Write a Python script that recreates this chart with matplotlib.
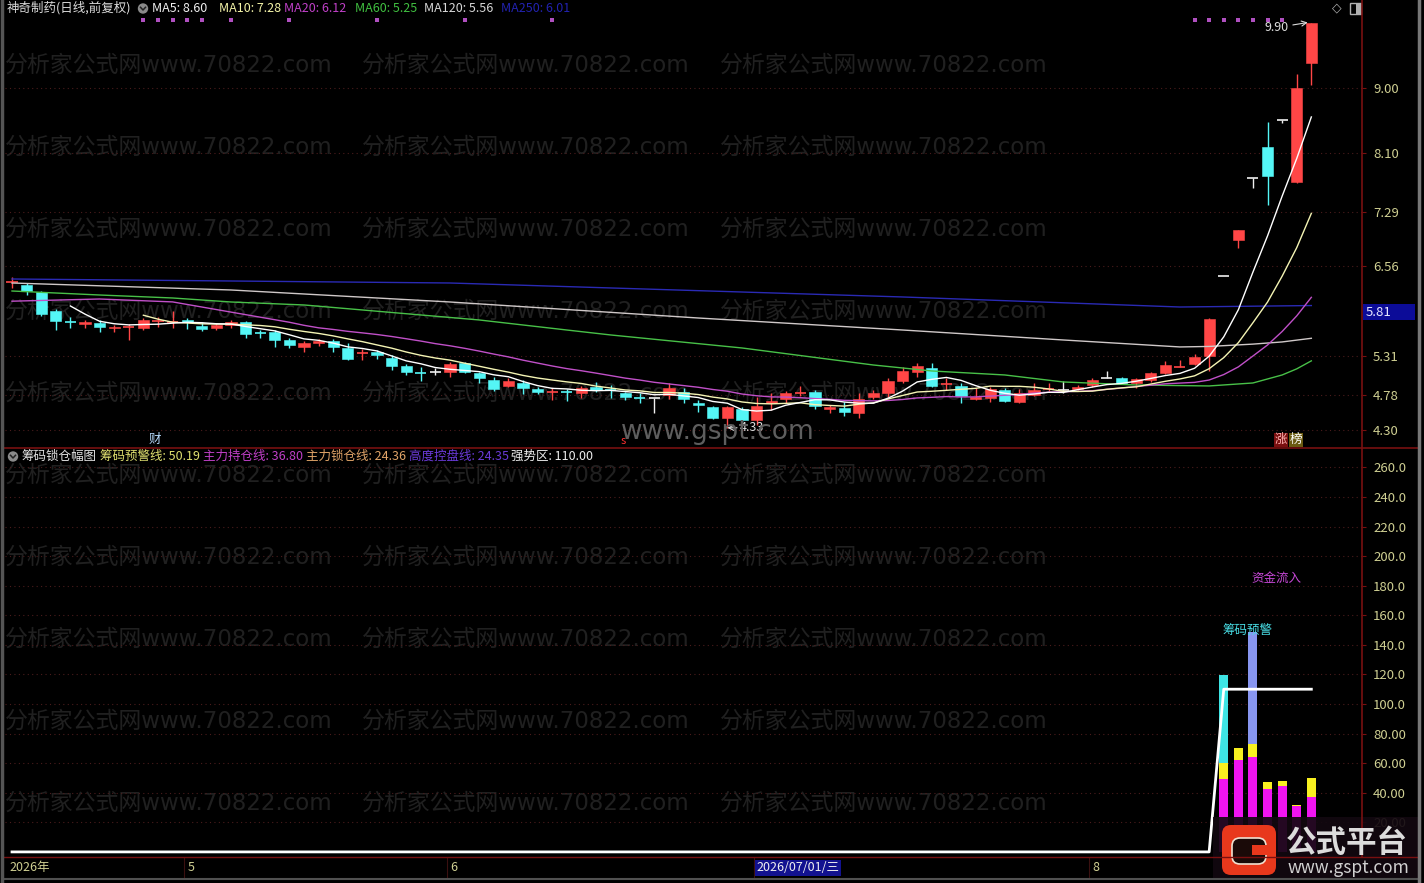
import numpy as np
import matplotlib
matplotlib.use('Agg')
import matplotlib.pyplot as plt
from matplotlib.patches import Rectangle, FancyBboxPatch, Circle
import matplotlib.transforms as mtransforms

plt.rcParams['font.family'] = ['Noto Sans CJK SC', 'DejaVu Sans']

# ---------------- data ----------------
opens = [6.33, 6.29, 6.20, 5.94, 5.79, 5.76, 5.77, 5.70, 5.71, 5.70,
         5.79, 5.78, 5.81, 5.73, 5.70, 5.74, 5.78, 5.64, 5.65, 5.54,
         5.44, 5.50, 5.52, 5.43, 5.35, 5.37, 5.29, 5.18, 5.09, 5.10,
         5.10, 5.22, 5.08, 4.99, 4.91, 4.95, 4.86, 4.82, 4.83, 4.81,
         4.89, 4.85, 4.81, 4.75, 4.74, 4.78, 4.82, 4.67, 4.62, 4.47,
         4.59, 4.44, 4.67, 4.73, 4.80, 4.82, 4.59, 4.60, 4.53, 4.75,
         4.81, 4.97, 5.10, 5.15, 4.93, 4.91, 4.73, 4.74, 4.85, 4.69,
         4.78, 4.86, 4.85, 4.86, 4.92, 5.02, 5.02, 4.95, 4.99, 5.08,
         5.16, 5.21, 5.32, 6.41, 6.91, 7.76, 8.19, 8.56, 7.71, 9.34]
highs = [6.40, 6.32, 6.21, 5.96, 5.85, 5.81, 5.81, 5.74, 5.76, 5.84,
         5.85, 5.94, 5.84, 5.78, 5.77, 5.81, 5.80, 5.67, 5.67, 5.56,
         5.52, 5.55, 5.55, 5.50, 5.41, 5.40, 5.33, 5.21, 5.17, 5.15,
         5.23, 5.23, 5.10, 5.03, 5.02, 4.99, 4.89, 4.88, 4.86, 4.91,
         4.96, 4.92, 4.82, 4.81, 4.74, 4.95, 4.88, 4.71, 4.63, 4.63,
         4.62, 4.75, 4.81, 4.84, 4.91, 4.85, 4.64, 4.69, 4.81, 4.85,
         5.02, 5.17, 5.22, 5.22, 5.02, 4.95, 4.88, 4.89, 4.88, 4.86,
         4.95, 4.95, 4.97, 4.92, 5.02, 5.11, 5.03, 5.02, 5.10, 5.25,
         5.26, 5.34, 5.84, 6.41, 7.05, 7.76, 8.53, 8.56, 9.19, 9.90]
lows = [6.25, 6.16, 5.87, 5.67, 5.70, 5.70, 5.65, 5.65, 5.54, 5.67,
        5.72, 5.70, 5.69, 5.66, 5.67, 5.70, 5.56, 5.56, 5.44, 5.43,
        5.37, 5.45, 5.37, 5.26, 5.26, 5.28, 5.12, 5.06, 4.97, 5.06,
        5.03, 5.08, 4.95, 4.84, 4.89, 4.80, 4.80, 4.71, 4.70, 4.74,
        4.82, 4.74, 4.71, 4.67, 4.53, 4.73, 4.67, 4.55, 4.45, 4.33,
        4.41, 4.37, 4.58, 4.67, 4.77, 4.59, 4.53, 4.49, 4.47, 4.73,
        4.75, 4.95, 5.03, 4.89, 4.85, 4.67, 4.71, 4.69, 4.69, 4.67,
        4.77, 4.84, 4.81, 4.85, 4.89, 5.02, 4.93, 4.88, 4.96, 5.07,
        5.16, 5.19, 5.11, 6.41, 6.80, 7.63, 7.39, 8.52, 7.70, 9.04]
closes = [6.34, 6.21, 5.89, 5.80, 5.78, 5.78, 5.72, 5.72, 5.72, 5.81,
          5.80, 5.79, 5.78, 5.69, 5.74, 5.78, 5.62, 5.63, 5.54, 5.47,
          5.50, 5.52, 5.44, 5.28, 5.36, 5.33, 5.18, 5.10, 5.08, 5.10,
          5.21, 5.10, 5.02, 4.86, 4.97, 4.88, 4.82, 4.83, 4.82, 4.88,
          4.85, 4.84, 4.75, 4.74, 4.74, 4.88, 4.73, 4.64, 4.47, 4.62,
          4.44, 4.63, 4.70, 4.81, 4.81, 4.63, 4.62, 4.55, 4.73, 4.81,
          4.97, 5.11, 5.18, 4.91, 4.94, 4.77, 4.75, 4.86, 4.70, 4.81,
          4.85, 4.87, 4.85, 4.89, 4.99, 5.02, 4.95, 5.00, 5.08, 5.19,
          5.17, 5.30, 5.83, 6.41, 7.05, 7.76, 7.79, 8.56, 9.00, 9.90]

# long moving averages need history before the window: values read at some bars
ma20_head_idx = [0, 6, 11, 15]
ma20_head_val = [6.07, 6.10, 6.06, 5.92]
ma60_idx = [0, 6, 11, 15, 20, 32, 38, 41, 50, 59, 63, 68, 72, 77, 82, 85, 87, 88, 89]
ma60_val = [6.21, 6.155, 6.114, 6.059, 6.018, 5.812, 5.674, 5.606, 5.427, 5.193,
            5.111, 5.056, 4.96, 4.918, 4.905, 4.946, 5.056, 5.14, 5.25]
ma120_idx = [0, 15, 30, 47, 61, 72, 80, 82, 85, 87, 89]
ma120_val = [6.32, 6.224, 6.059, 5.839, 5.674, 5.537, 5.441, 5.448, 5.48, 5.51, 5.56]
ma250_idx = [0, 30, 61, 80, 89]
ma250_val = [6.375, 6.32, 6.128, 5.99, 6.01]

signal_top_idx = [9, 10, 11, 12, 13, 15, 19, 25, 31, 37, 81, 82, 83, 84, 85, 86, 87]

# indicator panel
ind_idx = [83, 84, 85, 86, 87, 88, 89]
warn_vals = [59.9, 70.0, 72.8, 47.5, 47.9, 31.5, 50.19]   # 筹码预警线
hold_vals = [49.3, 62.1, 64.0, 42.5, 44.6, 31.0, 36.80]   # 主力持仓线
lock_last = 24.36      # 主力锁仓线
ctrl_last = 24.35      # 高度控盘线
alert_idx = [83]
alert_vals = [119.6]
inflow_idx = [85]
inflow_vals = [148.9]
strong_start = 83
strong_level = 110.0

price_ticks = [4.30, 4.78, 5.31, 6.56, 7.29, 8.10, 9.00]
ind_ticks = [20, 40, 60, 80, 100, 120, 140, 160, 180, 200, 220, 240, 260]
x_label_idx = [0, 12, 30, 51, 74]
x_labels = ['2026年', '5', '6', '2026/07/01/三', '8']

# ---------------- styling ----------------
RED = '#ff4646'
CYAN = '#54f6f6'
WHITE = '#f0f0f0'
AXRED = '#781010'
TICKC = '#cfcf92'
GRIDC = '#4a1c1c'

W, H = 1424, 883
fig = plt.figure(figsize=(W / 100, H / 100), dpi=100)
fig.patch.set_facecolor('black')


def px_axes(x0, y0, x1, y1, **kw):
    return fig.add_axes([x0 / W, 1 - y1 / H, (x1 - x0) / W, (y1 - y0) / H], **kw)


# background: watermarks
bg = px_axes(0, 0, W, H, zorder=-5)
bg.set_xlim(0, W)
bg.set_ylim(H, 0)
bg.axis('off')
for yy in [65, 147, 229, 311, 393, 475, 557, 639, 721, 803]:
    for xx in [5, 362, 720]:
        bg.text(xx, yy, '分析家公式网www.70822.com', color='#202020', fontsize=16.5,
                va='center', ha='left', family=['DejaVu Sans', 'Noto Sans CJK SC'])

N = len(closes)
XL = (-0.48, 92.47)

# ---------------- price panel ----------------
ax = px_axes(5, 14, 1362, 447)
ax.set_facecolor('none')
ax.set_xlim(*XL)
ax.set_ylim(4.066, 10.017)
for s in ax.spines.values():
    s.set_visible(False)
ax.set_xticks([])
ax.yaxis.tick_right()
ax.set_yticks(price_ticks)
ax.set_yticklabels([f'{t:.2f}' for t in price_ticks])
ax.tick_params(axis='y', colors=AXRED, labelcolor=TICKC, labelsize=9.5, length=3, pad=5)
for t in price_ticks:
    ax.axhline(t, color=GRIDC, lw=0.8, ls=(0, (1, 3)), zorder=0)

for i, (o, h, l, c) in enumerate(zip(opens, highs, lows, closes)):
    col = RED if c > o else (CYAN if c < o else WHITE)
    ax.vlines(i, l, h, color=col, lw=1.0, zorder=3)
    if abs(c - o) < 0.015:
        ax.hlines((o + c) / 2, i - 0.38, i + 0.38, color=col, lw=1.2, zorder=3)
    else:
        ax.add_patch(Rectangle((i - 0.38, min(o, c)), 0.76, abs(c - o),
                               facecolor=col, edgecolor=col, lw=0.4, zorder=3))

cl = np.array(closes)


def sma(n):
    return np.convolve(cl, np.ones(n) / n, mode='valid')


ma5 = sma(5)
ma10 = sma(10)
ma20 = sma(20)
ax.plot(ma250_idx, ma250_val, color='#2a2ab4', lw=1.0, zorder=4)
ax.plot(ma120_idx, ma120_val, color='#cfc8c8', lw=1.0, zorder=4)
ax.plot(ma60_idx, ma60_val, color='#48c048', lw=1.0, zorder=4)
ax.plot(np.concatenate([ma20_head_idx, np.arange(19, N)]),
        np.concatenate([ma20_head_val, ma20]), color='#c050c8', lw=1.0, zorder=4)
ax.plot(np.arange(9, N), ma10, color='#f4f4b4', lw=1.0, zorder=4)
ax.plot(np.arange(4, N), ma5, color='white', lw=1.0, zorder=4)

trans_top = mtransforms.blended_transform_factory(ax.transData, ax.transAxes)
ax.scatter(signal_top_idx, [0.986] * len(signal_top_idx), marker='s', s=5,
           color='#b050c0', transform=trans_top, zorder=5, linewidths=0)

imax = int(np.argmax(highs))
imin = int(np.argmin(lows))
ax.annotate(f'{highs[imax]:.2f}', xy=(imax - 0.25, highs[imax]), xytext=(imax - 1.55, highs[imax] - 0.07),
            color='#dcdcdc', fontsize=9, ha='right', va='center',
            arrowprops=dict(arrowstyle='->', color='#dcdcdc', lw=0.8, shrinkA=1, shrinkB=0))
ax.annotate(f'{lows[imin]:.2f}', xy=(imin, lows[imin]), xytext=(imin + 0.85, lows[imin]),
            color='#dcdcdc', fontsize=9, ha='left', va='center',
            arrowprops=dict(arrowstyle='->', color='#dcdcdc', lw=0.8, shrinkA=0, shrinkB=0))

ax.text(9.8, 4.165, '财', color='#b8dcff', fontsize=9, ha='center', va='center')
ax.text(41.85, 4.15, 's', color='#ff3030', fontsize=8, ha='center', va='center')
ax.text(86.9, 4.165, '涨', color='#ffb0b0', fontsize=9, ha='center', va='center',
        bbox=dict(boxstyle='square,pad=0.05', fc='#7a1010', ec='none'))
ax.text(87.95, 4.165, '榜', color='#ffffff', fontsize=9, ha='center', va='center',
        bbox=dict(boxstyle='square,pad=0.05', fc='#6a5a10', ec='none'))

# ---------------- indicator panel ----------------
axb = px_axes(5, 449, 1362, 856)
axb.set_facecolor('none')
axb.set_xlim(*XL)
axb.set_ylim(-2.77, 272.4)
for s in axb.spines.values():
    s.set_visible(False)
axb.set_xticks([])
axb.yaxis.tick_right()
axb.set_yticks(ind_ticks)
axb.set_yticklabels([f'{t:.1f}' if t >= 100 else f'{t:.2f}' for t in ind_ticks])
axb.tick_params(axis='y', colors=AXRED, labelcolor=TICKC, labelsize=9.5, length=3, pad=5)
for t in ind_ticks:
    axb.axhline(t, color=GRIDC, lw=0.8, ls=(0, (1, 3)), zorder=0)

axb.bar(alert_idx, alert_vals, width=0.62, color='#3ee4e4', zorder=3)
axb.bar(inflow_idx, inflow_vals, width=0.62, color='#8896f0', zorder=3)
axb.bar(ind_idx, warn_vals, width=0.62, color='#f8f020', zorder=3)
axb.bar(ind_idx, hold_vals, width=0.62, color='#f014f0', zorder=3)
strong = np.where(np.arange(N) >= strong_start, strong_level, 0.0)
axb.plot(np.arange(N), strong, color='white', lw=2.0, zorder=4)
axb.text(86.6, 185.0, '资金流入', color='#c848d8', fontsize=9, ha='center', va='center')
axb.text(84.66, 150.0, '筹码预警', color='#48dce4', fontsize=9, ha='center', va='center')

# ---------------- x axis strip ----------------
axx = px_axes(5, 857, 1362, 878)
axx.set_facecolor('none')
axx.set_xlim(*XL)
axx.set_ylim(0, 1)
axx.axis('off')
for k, (xi, lab) in enumerate(zip(x_label_idx, x_labels)):
    off = -0.15 if k == 0 else 0.0
    if lab.startswith('2026/'):
        axx.text(xi, 0.5, lab, color='#f0f0f0', fontsize=9, ha='left', va='center',
                 bbox=dict(boxstyle='square,pad=0.12', fc='#121290', ec='none'))
    else:
        axx.text(xi + off, 0.5, lab, color=TICKC, fontsize=9, ha='left', va='center')
    if k > 0:
        axx.vlines(xi - 0.2, 0, 1, color='#3a1010', lw=0.8)

# ---------------- overlay: frame, legends, logo ----------------
ov = px_axes(0, 0, W, H, zorder=10)
ov.set_facecolor('none')
ov.set_xlim(0, W)
ov.set_ylim(H, 0)
ov.axis('off')
ov.plot([1362, 1362], [0, 857], color=AXRED, lw=1.2)
ov.plot([3, 1418], [448, 448], color=AXRED, lw=1.2)
ov.plot([3, 1418], [857, 857], color=AXRED, lw=1.0)
ov.plot([3, 1418], [879, 879], color='#505050', lw=1.5)
ov.plot([2, 2], [0, 883], color='#555555', lw=2.5)
ov.plot([1419, 1419], [0, 883], color='#777777', lw=2.5)

# current-value box on price axis
ov.add_patch(Rectangle((1363, 304), 52, 16, facecolor='#0c0c98', edgecolor='none'))
ov.text(1366, 312, '5.81', color='#e8e8ff', fontsize=9.5, ha='left', va='center')

# header icons
ov.text(1337, 8, '◇', color='#b0b0b0', fontsize=9, ha='center', va='center', family=['DejaVu Sans'])
ov.add_patch(Rectangle((1350, 3), 11, 11, facecolor='none', edgecolor='#b0b0b0', lw=1.0))
ov.add_patch(Rectangle((1355.5, 3), 5.5, 11, facecolor='#b0b0b0', edgecolor='none'))


def legend_icon(x, y):
    ov.add_patch(Circle((x, y), 5.2, facecolor='#8a8a8a', edgecolor='none'))
    ov.plot([x - 2.5, x, x + 2.5], [y - 1.2, y + 1.5, y - 1.2], color='#222222', lw=1.1)


ma60_last = ma60_val[-1]
ma120_last = ma120_val[-1]
ma250_last = ma250_val[-1]
ov.text(7, 8, '神奇制药(日线,前复权)', color='#dcdcdc', fontsize=9, ha='left', va='center')
legend_icon(143, 8.5)
top_items = [(152, f'MA5: {ma5[-1]:.2f}', '#f0f0f0'),
             (219, f'MA10: {ma10[-1]:.2f}', '#f4f4a8'),
             (284, f'MA20: {ma20[-1]:.2f}', '#c040c8'),
             (355, f'MA60: {ma60_last:.2f}', '#40c040'),
             (424, f'MA120: {ma120_last:.2f}', '#d8d8d8'),
             (501, f'MA250: {ma250_last:.2f}', '#2222b0')]
for x, s, c in top_items:
    ov.text(x, 8, s, color=c, fontsize=9, ha='left', va='center')

legend_icon(13, 456.5)
bot_items = [(22, '筹码锁仓幅图', '#e4e4e4'),
             (100, f'筹码预警线: {warn_vals[-1]:.2f}', '#e0e070'),
             (203, f'主力持仓线: {hold_vals[-1]:.2f}', '#c040c8'),
             (306, f'主力锁仓线: {lock_last:.2f}', '#e0a468'),
             (409, f'高度控盘线: {ctrl_last:.2f}', '#6a3ad8'),
             (511, f'强势区: {strong_level:.2f}', '#eeeeee')]
for x, s, c in bot_items:
    ov.text(x, 456, s, color=c, fontsize=9, ha='left', va='center')

# centre watermark
ov.text(718, 432, 'www.gspt.com', color='#5e5e5e', fontsize=19, ha='center', va='center',
        family=['DejaVu Sans'])

# logo bottom-right
ov.add_patch(Rectangle((1213, 817), 206, 62, facecolor='#120810', edgecolor='none', alpha=0.92))
ov.add_patch(FancyBboxPatch((1222, 825), 54, 50, boxstyle='round,pad=0,rounding_size=9',
                            facecolor='#e8381c', edgecolor='none'))
ov.add_patch(FancyBboxPatch((1232, 838), 34, 26, boxstyle='round,pad=0,rounding_size=8',
                            facecolor='#1a0a08', edgecolor='#f0e0d0', lw=1.2))
ov.add_patch(Rectangle((1252, 845), 16, 10, facecolor='#e8381c', edgecolor='none'))
ov.text(1347, 843, '公式平台', color='#dcdcdc', fontsize=22, fontweight='bold', ha='center', va='center')
ov.text(1348, 868, 'www.gspt.com', color='#d0d0d0', fontsize=12.5, ha='center', va='center')

fig.savefig('out.png', dpi=100, facecolor='black')
